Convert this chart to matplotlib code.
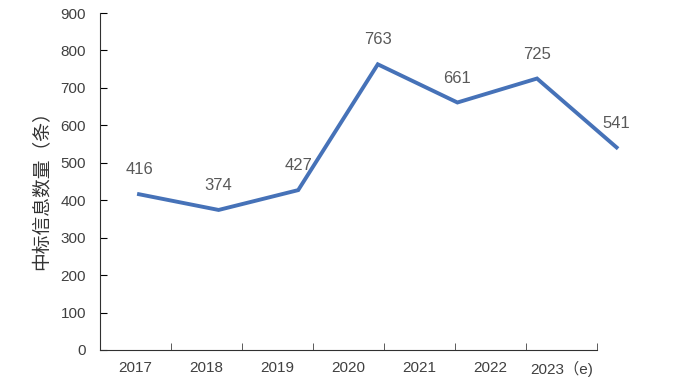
import matplotlib.pyplot as plt

plt.rcParams['font.family'] = ['Liberation Sans', 'Noto Sans CJK SC', 'DejaVu Sans']

years = ['2017', '2018', '2019', '2020', '2021', '2022', '2023（e)']
counts = [416, 374, 427, 763, 661, 725, 541]
yticks = [0, 100, 200, 300, 400, 500, 600, 700, 800, 900]

fig = plt.figure(figsize=(6.73, 3.86), dpi=100)
ax = fig.add_axes([0.1486, 0.0933, 0.7385, 0.873])

x = list(range(len(years)))

ax.set_xlim(-0.5, len(years) - 0.5)
ax.set_ylim(0, 900)
ax.set_yticks(yticks)
ax.set_xticks(x)
ax.set_xticklabels(years, fontsize=11, color='#404040')
ax.set_xticks([i + 0.5 for i in range(len(years))], minor=True)
ax.tick_params(axis='x', which='major', length=0, pad=8)
ax.tick_params(axis='x', which='minor', direction='in', length=5, color='#404040')
ax.tick_params(axis='y', direction='in', length=5, labelsize=11, labelcolor='#404040', pad=10)

for s in ['top', 'right']:
    ax.spines[s].set_visible(False)
ax.spines['left'].set_color('#303030')
ax.spines['bottom'].set_color('#303030')

ax.set_ylabel('中标信息数量（条）', fontsize=13.5, color='#333333')
ax.yaxis.set_label_coords(-0.097, 0.488)

# the line sits on a slightly wider category spacing than the axis ticks
ax2 = ax.twiny()
ax2.set_xlim(-0.49, 5.754)
ax2.set_ylim(0, 900)
ax2.axis('off')
ax2.plot(x, counts, color='#4672b8', linewidth=2.8, solid_joinstyle='miter', clip_on=False)

for xi, v in zip(x, counts):
    ax2.annotate(str(v), (xi, v), xytext=(0, 17.5), textcoords='offset points',
                 ha='center', va='center', fontsize=12, color='#595959',
                 annotation_clip=False)

fig.savefig('out.png', dpi=100)
